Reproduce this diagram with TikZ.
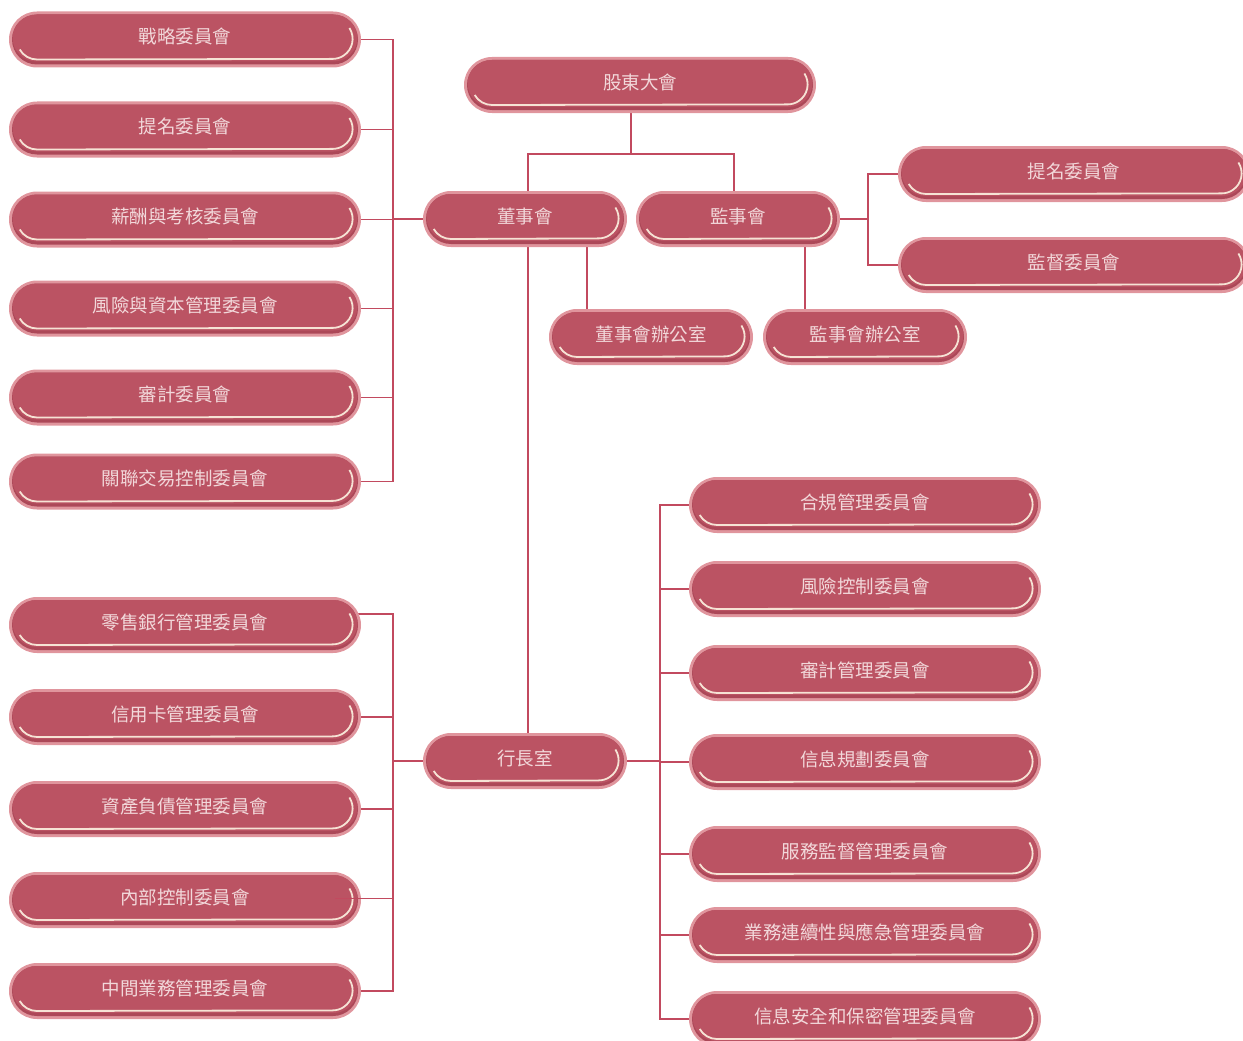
\documentclass[tikz,border=0pt]{standalone}
\usepackage{fontspec}
\newfontfamily\cjk{Noto Sans CJK TC}
\usetikzlibrary{backgrounds}
\definecolor{rim}{HTML}{E0959D}
\definecolor{boxred}{HTML}{BB5363}
\definecolor{boxdark}{HTML}{AC4858}
\definecolor{cream}{HTML}{F6E3D5}
\definecolor{txt}{HTML}{F2D8DA}
\definecolor{linec}{HTML}{C24A5F}
\tikzset{
  orgbox/.style={minimum height=56pt, minimum width=#1, inner sep=0pt,
    text height=15pt, text depth=6.5pt,
    text=txt, font=\cjk\fontsize{18.5}{20}\selectfont,
    fill=rim, rounded corners=28pt,
    path picture={
      \fill[boxdark, rounded corners=25pt]
        ([shift={(3pt,3pt)}]path picture bounding box.south west) rectangle
        ([shift={(-3pt,-3pt)}]path picture bounding box.north east);
      \fill[boxred, rounded corners=24pt]
        ([shift={(3.5pt,6pt)}]path picture bounding box.south west) rectangle
        ([shift={(-3.5pt,-3pt)}]path picture bounding box.north east);
      \draw[cream, line width=1.8pt, rounded corners=0pt]
        ([shift={(-11.6pt,39.5pt)}]path picture bounding box.south east)
        arc[start angle=33, end angle=-90, radius=20pt]
        -- ([shift={(28pt,8pt)}]path picture bounding box.south west)
        arc[start angle=-90, end angle=-150, radius=20pt];
    }},
  orgbox/.default=352pt,
  conn/.style={draw=linec, line width=1.4pt}
}
\begin{document}
\begin{tikzpicture}[x=1pt,y=-1pt]
\useasboundingbox (0,0) rectangle (1243,1041);
% centre column
\node[orgbox] (gd) at (640,85) {股東大會};
\node[orgbox=204pt] (dsh) at (525,219) {董事會};
\node[orgbox=204pt] (jsh) at (738,219) {監事會};
\node[orgbox=204pt] (dban) at (651,337) {董事會辦公室};
\node[orgbox=204pt] (jban) at (865,337) {監事會辦公室};
\node[orgbox=204pt] (hz) at (525,761) {行長室};
% supervisors' committees
\node[orgbox] (jr1) at (1074,174) {提名委員會};
\node[orgbox] (jr2) at (1074,265) {監督委員會};
% board committees
\node[orgbox] (s1) at (185,39.5) {戰略委員會};
\node[orgbox] (s2) at (185,129.5) {提名委員會};
\node[orgbox] (s3) at (185,219.5) {薪酬與考核委員會};
\node[orgbox] (s4) at (185,308.5) {風險與資本管理委員會};
\node[orgbox] (s5) at (185,397.5) {審計委員會};
\node[orgbox] (s6) at (185,481.5) {關聯交易控制委員會};
% management committees left
\node[orgbox] (l1) at (185,625) {零售銀行管理委員會};
\node[orgbox] (l2) at (185,717) {信用卡管理委員會};
\node[orgbox] (l3) at (185,809) {資產負債管理委員會};
\node[orgbox] (l4) at (185,900) {內部控制委員會};
\node[orgbox] (l5) at (185,991) {中間業務管理委員會};
% management committees right
\node[orgbox] (r1) at (865,505) {合規管理委員會};
\node[orgbox] (r2) at (865,589) {風險控制委員會};
\node[orgbox] (r3) at (865,673) {審計管理委員會};
\node[orgbox] (r4) at (865,762) {信息規劃委員會};
\node[orgbox] (r5) at (865,854) {服務監督管理委員會};
\node[orgbox] (r6) at (865,935) {業務連續性與應急管理委員會};
\node[orgbox] (r7) at (865,1019) {信息安全和保密管理委員會};
% bus coordinates
\coordinate (busL) at (393,0);
\coordinate (busR) at (660,0);
\coordinate (busS) at (868,0);
\coordinate (j1) at (631,154);
\coordinate (jd) at (528,154);
\coordinate (js) at (734,154);
\coordinate (c1) at (587,0);
\coordinate (c2) at (805,0);
\coordinate (l1c) at (300,614);
\coordinate (l4c) at (335,898);
\begin{scope}[on background layer]
\draw[conn] (gd.south -| j1) -- (j1);
\draw[conn] (jd |- dsh.north) -- (jd) -- (js) -- (js |- jsh.north);
\draw[conn] (jd |- dsh.south) -- (jd |- hz.north);
\draw[conn] (c1 |- dsh.south) -- (c1 |- dban.north);
\draw[conn] (c2 |- jsh.south) -- (c2 |- jban.north);
\draw[conn] (dsh.west) -- (dsh.west -| busL);
\draw[conn] (jsh.east) -- (jsh.east -| busS);
\draw[conn] (jr1.west) -- (jr1.west -| busS) -- (jr2.west -| busS) -- (jr2.west);
\draw[conn] (s1.east) -- (s1.east -| busL) -- (s6.east -| busL) -- (s6.east);
\foreach \n in {s2,s3,s4,s5} \draw[conn] (\n.east) -- (\n.east -| busL);
\draw[conn] (hz.west) -- (hz.west -| busL);
\draw[conn] (l1c) -- (l1c -| busL) -- (l5.east -| busL) -- (l5.east);
\foreach \n in {l2,l3} \draw[conn] (\n.east) -- (\n.east -| busL);
\draw[conn] (hz.east) -- (hz.east -| busR);
\draw[conn] (r1.west) -- (r1.west -| busR) -- (r7.west -| busR) -- (r7.west);
\foreach \n in {r2,r3,r4,r5,r6} \draw[conn] (\n.west) -- (\n.west -| busR);
\end{scope}
\draw[conn, line width=1pt] (l4c) -- (l4c -| busL);
\end{tikzpicture}
\end{document}
